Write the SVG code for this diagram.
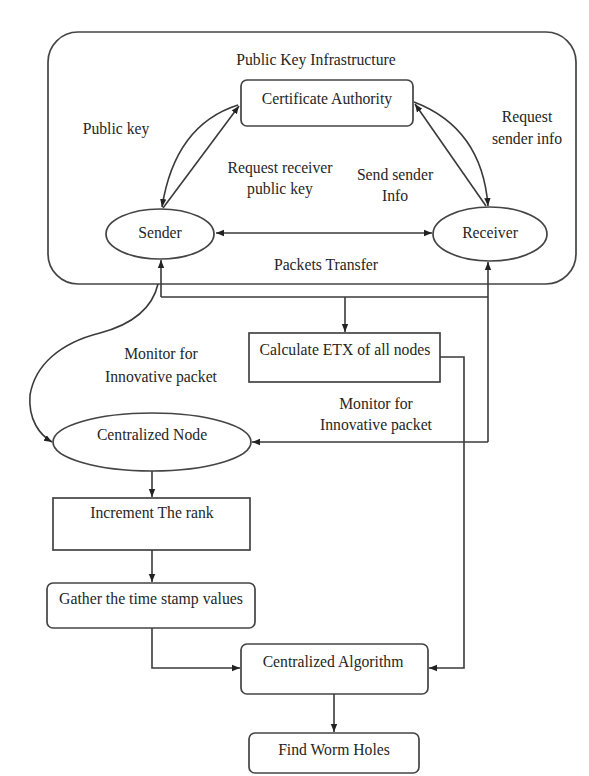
<svg xmlns="http://www.w3.org/2000/svg" width="589" height="776" viewBox="0 0 589 776">
<defs>
<marker id="ah" viewBox="0 0 10 10" refX="10" refY="5" markerWidth="8" markerHeight="8" orient="auto-start-reverse" markerUnits="userSpaceOnUse">
<path d="M0,1 L10,5 L0,9 z" fill="#222"/>
</marker>
<style>
.box{fill:#fff;stroke:#444;stroke-width:1.7}
.t{font-family:"Liberation Serif","Times New Roman",serif;font-size:15.7px;fill:#262626;text-anchor:middle}
.c{fill:none;stroke:#3a3a3a;stroke-width:1.6}
</style>
</defs>
<rect width="589" height="776" fill="#fff"/>
<g id="pki">
<rect class="box" x="48" y="32" width="528" height="252" rx="30"/>
<text class="t" x="316" y="65">Public Key Infrastructure</text>
</g>
<g id="ca">
<rect class="box" x="241" y="80" width="172" height="46" rx="6"/>
<text class="t" x="327" y="104">Certificate Authority</text>
</g>
<g id="sender">
<ellipse class="box" cx="160" cy="234" rx="54" ry="25"/>
<text class="t" x="160" y="238">Sender</text>
</g>
<g id="receiver">
<ellipse class="box" cx="490" cy="234" rx="57" ry="27"/>
<text class="t" x="490" y="238">Receiver</text>
</g>
<g id="etx">
<rect class="box" x="249" y="333" width="191" height="49"/>
<text class="t" x="345" y="355">Calculate ETX of all nodes</text>
</g>
<g id="cnode">
<ellipse class="box" cx="152" cy="442" rx="99" ry="29"/>
<text class="t" x="152" y="440">Centralized Node</text>
</g>
<g id="increment">
<rect class="box" x="53" y="498" width="197" height="52"/>
<text class="t" x="152" y="518">Increment The rank</text>
</g>
<g id="gather">
<rect class="box" x="47" y="583" width="208" height="45" rx="6"/>
<text class="t" x="151" y="604" textLength="184" lengthAdjust="spacingAndGlyphs">Gather the time stamp values</text>
</g>
<g id="calg">
<rect class="box" x="241" y="644" width="187" height="50" rx="6"/>
<text class="t" x="333" y="667">Centralized Algorithm</text>
</g>
<g id="fwh">
<rect class="box" x="249" y="733" width="170" height="40" rx="6"/>
<text class="t" x="334" y="755">Find Worm Holes</text>
</g>
<g id="connectors">
<path class="c" d="M238,105 Q175,125 162,207" marker-end="url(#ah)"/>
<path class="c" d="M163,208 L239,106" marker-end="url(#ah)"/>
<path class="c" d="M414,102 Q482,128 488,206" marker-end="url(#ah)"/>
<path class="c" d="M486,206 L415,104" marker-end="url(#ah)"/>
<path class="c" d="M216,233 L432,233" marker-start="url(#ah)" marker-end="url(#ah)"/>
<path class="c" d="M161,297 L161,260" marker-end="url(#ah)"/>
<path class="c" d="M161,297 L488,297"/>
<path class="c" d="M488,442 L488,262" marker-end="url(#ah)"/>
<path class="c" d="M488,442 L252,442" marker-end="url(#ah)"/>
<path class="c" d="M345,297 L345,332" marker-end="url(#ah)"/>
<path class="c" d="M158,284 C152,310 130,325 100,333 C60,343 35,365 30,395 C28,420 40,435 52,442" marker-end="url(#ah)"/>
<path class="c" d="M440,357 L464,357 L464,668 L429,668" marker-end="url(#ah)"/>
<path class="c" d="M152,471 L152,497" marker-end="url(#ah)"/>
<path class="c" d="M152,550 L152,582" marker-end="url(#ah)"/>
<path class="c" d="M152,628 L152,668 L240,668" marker-end="url(#ah)"/>
<path class="c" d="M334,694 L334,732" marker-end="url(#ah)"/>
</g>
<g id="labels">
<text class="t" x="116" y="134">Public key</text>
<text class="t" x="527" y="122">Request</text>
<text class="t" x="527" y="144">sender info</text>
<text class="t" x="280" y="173">Request receiver</text>
<text class="t" x="280" y="194">public key</text>
<text class="t" x="395" y="180">Send sender</text>
<text class="t" x="395" y="201">Info</text>
<text class="t" x="326" y="270">Packets Transfer</text>
<text class="t" x="161" y="359">Monitor for</text>
<text class="t" x="161" y="382">Innovative packet</text>
<text class="t" x="376" y="409">Monitor for</text>
<text class="t" x="376" y="430">Innovative packet</text>
</g>
</svg>
